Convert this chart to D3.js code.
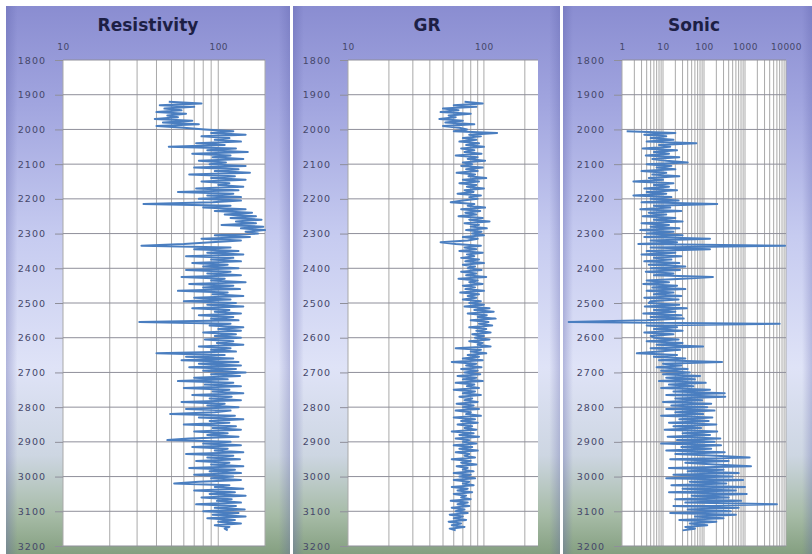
<!DOCTYPE html>
<html>
<head>
<meta charset="utf-8">
<script src="https://cdn.jsdelivr.net/npm/d3@7"></script>
<style>
  body { margin: 0; background: #fff; }
  svg { display: block; }
</style>
</head>
<body>
<div id="chart"></div>
<script>
const width = 812, height = 554;

// log sampling: first depth of each curve, 5 m interval
const step = 5;
const resTop = 1920, grTop = 1920, sonicTop = 2005;

const resistivity = [
  48, 78, 42, 70, 45, 58, 40, 62, 47, 55, 39, 68, 44, 75, 40, 60,
  82, 125, 90, 150, 78, 118, 95, 140, 72, 110, 48, 130, 85, 155, 68, 120, 92, 145, 75, 112,
  88, 150, 70, 135, 95, 160, 65, 128, 90, 150, 78, 118, 100, 145, 72, 135, 55, 125, 85, 140,
  75, 140, 92, 33, 120, 80, 150, 95, 165, 110, 175, 120, 190, 130, 175, 105, 195, 140, 200, 150,
  180, 95, 160, 78, 140, 90, 60, 32, 120, 70, 135, 85, 145, 62, 125, 90, 140, 68, 115, 80,
  135, 62, 120, 85, 140, 58, 110, 90, 150, 65, 125, 80, 138, 55, 115, 92, 145, 70, 120, 60,
  130, 85, 145, 68, 118, 95, 140, 75, 125, 90, 135, 31, 120, 88, 145, 100, 140, 80, 130, 95,
  140, 82, 125, 98, 145, 75, 120, 90, 130, 40, 110, 62, 125, 58, 135, 75, 140, 65, 130, 80,
  150, 90, 138, 70, 115, 55, 125, 82, 140, 60, 118, 92, 145, 68, 122, 88, 140, 58, 110, 85,
  135, 62, 120, 95, 49, 128, 75, 145, 88, 118, 60, 130, 92, 140, 70, 115, 85, 135, 65, 47,
  120, 80, 140, 68, 115, 95, 145, 62, 125, 85, 138, 72, 118, 90, 145, 65, 128, 88, 140, 70,
  125, 90, 140, 75, 52, 118, 95, 145, 70, 128, 88, 150, 78, 122, 98, 140, 72, 130, 95, 148,
  80, 135, 92, 150, 85, 128, 100, 140, 95, 118, 110, 115
];

const gr = [
  72, 98, 60, 88, 50, 65, 48, 80, 55, 62, 47, 70, 52, 85, 50, 66,
  75, 60, 125, 78, 95, 70, 88, 66, 92, 74, 100, 68, 85, 72, 96, 62, 90, 76, 102, 70,
  82, 68, 98, 74, 90, 63, 86, 77, 104, 70, 92, 66, 88, 75, 100, 72, 84, 64, 95, 78,
  90, 70, 57, 85, 76, 102, 68, 94, 73, 88, 65, 98, 78, 110, 72, 92, 80, 105, 74, 96,
  82, 100, 70, 90, 76, 48, 62, 95, 72, 88, 66, 98, 75, 85, 68, 92, 73, 100, 70, 86,
  76, 96, 68, 88, 74, 104, 65, 90, 78, 98, 70, 86, 73, 100, 67, 92, 76, 88, 70, 95,
  78, 100, 72, 110, 85, 118, 76, 105, 90, 122, 80, 108, 92, 115, 78, 104, 88, 112, 82, 100,
  86, 110, 78, 98, 90, 112, 62, 95, 80, 104, 76, 92, 70, 98, 58, 88, 74, 96, 68, 90,
  72, 94, 64, 88, 70, 98, 62, 85, 75, 92, 60, 86, 70, 95, 66, 82, 72, 90, 63, 84,
  70, 92, 62, 80, 74, 95, 60, 86, 68, 90, 64, 82, 72, 88, 58, 84, 66, 92, 62, 78,
  70, 88, 60, 82, 66, 90, 62, 78, 72, 86, 58, 80, 68, 88, 63, 76, 70, 84, 60, 80,
  66, 86, 60, 78, 70, 84, 58, 76, 64, 82, 60, 74, 68, 80, 57, 76, 64, 78, 58, 72,
  62, 76, 56, 70, 60, 74, 55, 68, 58, 72, 56, 62
];

const sonic = [
  1.3, 20, 3.5, 12, 5, 18, 4, 65, 8, 15, 3.2, 22, 6, 14, 3.8, 25, 5.5, 12, 40,
  4, 16, 7, 20, 3, 12, 5.5, 25, 4.5, 10, 1.9, 18, 6, 14, 3.5, 22, 4, 12, 1.9, 16,
  5, 24, 3, 210, 6, 15, 2.8, 28, 4.5, 12, 3.2, 20, 6, 30, 3, 14, 5, 25, 2.8, 18,
  4, 30, 3.5, 140, 5, 22, 2.5, 9500, 5, 140, 4, 20, 3, 28, 6, 16, 3.5, 25, 4.5, 35,
  5, 26, 3.8, 18, 6, 165, 30, 4, 14, 3.3, 22, 5.5, 35, 4, 18, 6, 28, 3.5, 24, 5,
  4.5, 25, 3.6, 38, 6, 20, 3.3, 28, 5, 32, 4, 0.05, 7000, 4, 22, 6, 30, 3.5, 18, 5,
  6, 24, 4, 30, 7, 95, 5, 26, 8, 2.3, 22, 6, 35, 8, 275, 10, 28, 7, 40, 9,
  45, 10, 80, 12, 60, 8, 110, 14, 55, 9, 140, 18, 320, 12, 330, 20, 90, 10, 150, 16,
  120, 12, 180, 20, 95, 9, 160, 25, 130, 14, 200, 18, 85, 11, 210, 30, 140, 13, 250, 22,
  180, 9, 260, 28, 150, 12, 320, 20, 200, 1300, 15, 400, 35, 180, 1400, 14, 300, 40, 700, 18,
  500, 12, 900, 45, 350, 16, 1000, 30, 600, 14, 1100, 50, 400, 20, 800, 35, 6000, 18, 700, 40,
  450, 15, 600, 60, 300, 25, 200, 45, 120, 35, 60, 30
];

const trackNames = ["Resistivity", "GR", "Sonic"];
const trackDomains = [[10, 200], [10, 250], [1, 10000]];
const topLabels = [[10, 100], [10, 100], [1, 10, 100, 1000, 10000]];
const depthLabels = [1800, 1900, 2000, 2100, 2200, 2300, 2400, 2500, 2600, 2700, 2800, 2900, 3000, 3100, 3200];

const tracks = [
  {values: resistivity, top: resTop},
  {values: gr, top: grTop},
  {values: sonic, top: sonicTop}
].map((t, i) => ({
  ...t,
  name: trackNames[i],
  domain: trackDomains[i],
  labels: topLabels[i],
  rows: t.values.map((v, j) => ({depth: t.top + j * step, v}))
}));

// panel frames and plot boxes (pixels)
const layout = [
  {x0: 6, x1: 290, left: 63, right: 265, titleX: 148},
  {x0: 293, x1: 560, left: 348, right: 538, titleX: 427},
  {x0: 563, x1: 812, left: 622, right: 786, titleX: 694}
];
const plotTop = 60, plotBottom = 546;

const svg = d3.select("#chart").append("svg")
  .attr("width", width)
  .attr("height", height);

const defs = svg.append("defs");
const bg = defs.append("linearGradient")
  .attr("id", "panel-bg")
  .attr("x1", "0%").attr("x2", "0%")
  .attr("y1", "0%").attr("y2", "100%");
[
  [0, "#8a8dd1"], [0.18, "#a1a5df"], [0.42, "#c6cbf0"], [0.66, "#dfe3f7"],
  [0.82, "#cdd6e2"], [0.93, "#a6bba6"], [1, "#849f80"]
].forEach(([o, c]) => bg.append("stop").attr("offset", o).attr("stop-color", c));

const edge = defs.append("linearGradient")
  .attr("id", "panel-edge")
  .attr("x1", "0%").attr("x2", "100%")
  .attr("y1", "0%").attr("y2", "0%");
[
  [0, "#5a5ea8", 0.35], [0.04, "#5a5ea8", 0], [0.96, "#5a5ea8", 0], [1, "#5a5ea8", 0.3]
].forEach(([o, c, a]) => edge.append("stop").attr("offset", o).attr("stop-color", c).attr("stop-opacity", a));

const y = d3.scaleLinear().domain([1800, 3200]).range([plotTop, plotBottom]);

tracks.forEach((t, i) => {
  const L = layout[i];
  const g = svg.append("g");

  g.append("rect")
    .attr("x", L.x0).attr("y", 6)
    .attr("width", L.x1 - L.x0).attr("height", height - 6)
    .attr("fill", "url(#panel-bg)");
  g.append("rect")
    .attr("x", L.x0).attr("y", 6)
    .attr("width", L.x1 - L.x0).attr("height", height - 6)
    .attr("fill", "url(#panel-edge)");

  g.append("text")
    .attr("x", L.titleX).attr("y", 31)
    .attr("text-anchor", "middle")
    .attr("font-family", "DejaVu Sans, sans-serif")
    .attr("font-weight", "bold")
    .attr("font-size", "17px")
    .attr("fill", "#1d1f45")
    .text(t.name);

  const x = d3.scaleLog().domain(t.domain).range([L.left, L.right]);

  g.append("rect")
    .attr("x", L.left).attr("y", plotTop)
    .attr("width", L.right - L.left).attr("height", plotBottom - plotTop)
    .attr("fill", "#fff");

  // vertical log grid
  g.append("g").selectAll("line")
    .data(x.ticks())
    .join("line")
    .attr("x1", d => x(d)).attr("x2", d => x(d))
    .attr("y1", plotTop).attr("y2", plotBottom)
    .attr("stroke", "#a9a9a9")
    .attr("stroke-width", 1);

  // depth axis with horizontal grid
  const yAxis = g.append("g")
    .attr("transform", `translate(${L.left},0)`)
    .call(d3.axisLeft(y).tickValues(depthLabels).tickSize(8).tickPadding(9).tickFormat(d3.format("d")));
  yAxis.select(".domain").remove();
  yAxis.selectAll(".tick line").attr("stroke", "#8f8f9a");
  yAxis.selectAll(".tick text")
    .attr("font-family", "DejaVu Sans, sans-serif")
    .attr("font-size", "9.5px")
    .attr("letter-spacing", "1px")
    .attr("fill", "#45476a");
  g.append("g").selectAll("line")
    .data(depthLabels)
    .join("line")
    .attr("x1", L.left).attr("x2", L.right)
    .attr("y1", d => y(d)).attr("y2", d => y(d))
    .attr("stroke", "#8f8f9a")
    .attr("stroke-width", 1);

  // top value labels
  const xAxis = g.append("g")
    .attr("transform", `translate(0,${plotTop - 6})`)
    .call(d3.axisTop(x).tickValues(t.labels).tickSize(0).tickPadding(4).tickFormat(d3.format("d")));
  xAxis.select(".domain").remove();
  xAxis.selectAll(".tick text")
    .attr("font-family", "DejaVu Sans, sans-serif")
    .attr("font-size", "9px")
    .attr("letter-spacing", "0.5px")
    .attr("fill", "#45476a");

  const line = d3.line()
    .x(d => x(d.v))
    .y(d => y(d.depth));

  g.append("path")
    .datum(t.rows)
    .attr("d", line)
    .attr("fill", "none")
    .attr("stroke", "#4a7ec0")
    .attr("stroke-width", 2)
    .attr("stroke-linejoin", "round");
});
</script>
</body>
</html>
